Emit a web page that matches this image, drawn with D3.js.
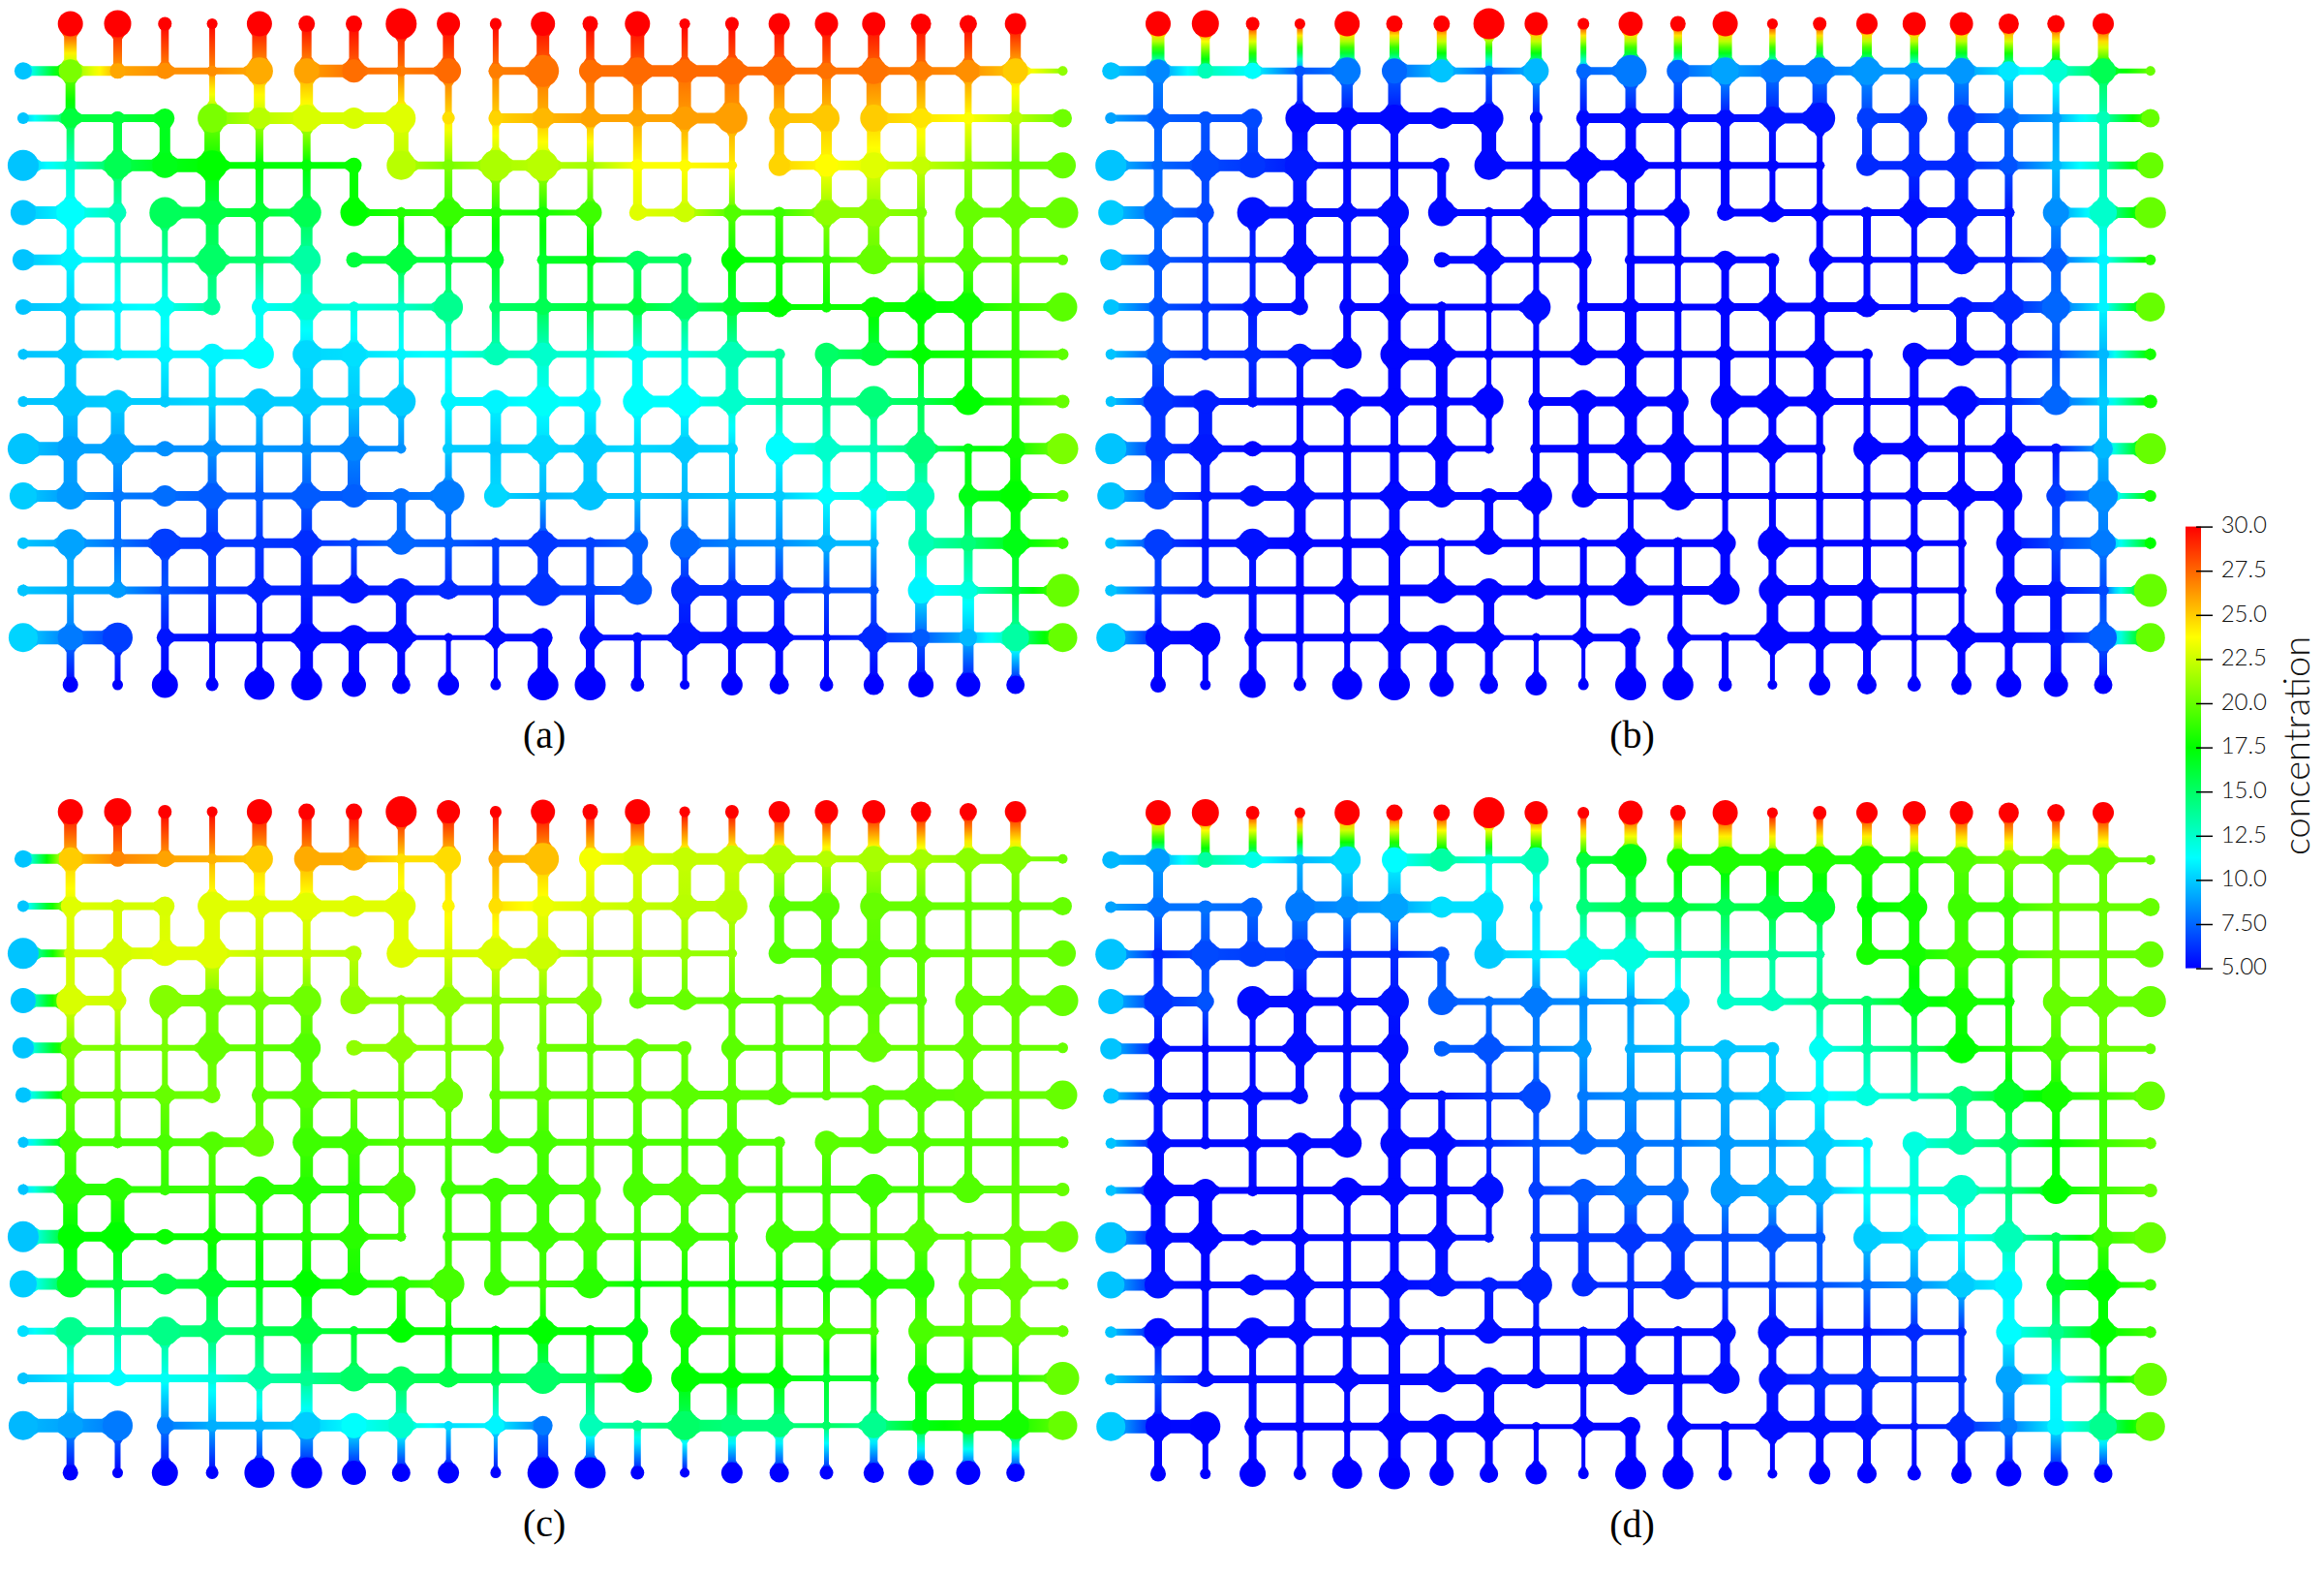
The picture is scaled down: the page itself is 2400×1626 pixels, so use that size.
<!DOCTYPE html>
<html><head><meta charset="utf-8">
<script src="https://cdn.jsdelivr.net/npm/d3@7"></script>
<style>html,body{margin:0;background:#fff}svg{display:block}</style>
</head><body><div id="chart"></div>
<script>
// colour bar
const legendDomain = [5, 11.25, 17.5, 23.75, 30];
const legendColors = ["#0000ff", "#00ffff", "#00ff00", "#ffff00", "#ff0000"];
const legendTicks = [30, 27.5, 25, 22.5, 20, 17.5, 15, 12.5, 10, 7.5, 5];
const legendLabels = ["30.0", "27.5", "25.0", "22.5", "20.0", "17.5", "15.0", "12.5", "10.0", "7.50", "5.00"];
const panelLabels = ["(a)", "(b)", "(c)", "(d)"];
const topValue = 30, bottomValue = 5;

// node radii, boundary rows hold columns 1..21, inner rows hold columns 0..22
const radiusTop = [13,14,7,5.5,13,8.5,8.5,16,12,6,12.5,8,13,5.5,7,11,12,12,10.5,9,11];
const radiusBottom = [8,5.5,13.5,6.5,15.5,16,12.5,9.5,11,5.5,16,16,7,5,11,10,7,10.5,13,12.5,9.5];
const radiusRows = [
[9,12,8,8.5,4,14,13,12,5,13,7.5,16.5,11.5,14,12,14,14.5,8.5,13.5,10,11.5,13,5],
[6,10,7,10,15,11,14,11,15,6.5,7.5,10.5,9.5,8.5,12,16,10.5,13.5,14,10,6,7,9.5],
[16,5,14,13,15.5,5.5,5,8,15,5,16,16,5,6,6,5,11,11.5,13.5,9,5,5,13.5],
[13,14.5,9,16,12.5,9,15,14,5,14,6,5,12,8.5,10,8,6,13,14,4.5,13.5,14,16],
[11,10,4.5,4,15.5,5,14.5,8,13.5,4,8.5,6,5,9.5,7,11,5,4,15,5,11.5,5,5.5],
[8,9,6,9,8.5,8,13.5,5,4,15,6.5,6,5,8.5,12.5,9,10.5,4,10.5,15,14.5,5,15],
[5,11,6,8,11,15,14.5,12.5,4,5,11.5,12,4,8.5,5,13,6,12,12,9,5,6,5],
[5,15,12,5,4,13.5,13,5,15,8,12,15,11,15,15,12.5,4,5,16,5,14,6,7],
[16,13,15,8,8,4,5,12.5,5,6,5,14,14.5,5,12.5,5,14,12,5,15,5,10,16],
[14,14,5,11,13,4,13,12,8,16.5,12,5,15,4,4,4,6,8,13,14,10,15,6],
[6,14.5,4,15,11.5,5,13,4,12,5,5,13,6,11,15,5,5,8,4,13,8,13,5],
[6,4,8,4,4,11,5,13.5,12.5,9.5,5,16,5,15,14,10,10.5,4,5,13.5,9,5,17],
[15,13,15.5,8.5,4,4,14,13,13,4,9,10,11,5,15,11,12,4,13,9,9,14,15]];

// horizontal pipe widths for rows 1..13, 0 means no pipe
const horizontalWidths = [
[10,10,10,6,6,0,13,6,6,0,8,0,12,12,12,9,6,6,8,8,10,4],
[6,8,8,0,12,12,12,12,0,0,10,10,8,8,11,0,10,0,10,8,8,8],
[7,7,12,14,6,6,6,0,8,8,11,6,6,6,5,0,9,10,8,7,7,7],
[13,10,0,12,9,8,0,6,6,6,5,5,0,8,6,5,6,11,6,0,10,11],
[11,5,5,5,6,6,0,8,5,5,0,7,5,6,0,5,5,5,5,5,5,5],
[8,6,6,8,0,8,6,6,6,0,8,8,6,7,9,10,5,5,10,12,7,7],
[6,8,7,8,10,0,12,6,6,6,8,6,6,6,6,6,0,10,8,8,7,7],
[6,12,6,7,8,10,8,8,0,9,10,10,0,12,10,6,6,8,6,6,8,7],
[14,10,6,6,6,6,6,5,0,7,9,8,6,7,7,0,12,6,6,5,5,12],
[12,8,6,10,6,6,10,7,8,0,5,6,5,5,5,5,6,8,10,0,11,5],
[6,8,8,12,8,10,5,5,7,6,6,8,8,0,7,6,6,5,0,11,12,7],
[7,7,7,8,8,10,12,10,10,10,10,10,9,0,11,11,5,5,0,11,6,6],
[14,14,0,7,7,7,12,12,4,4,7,0,5,5,12,12,4,4,10,11,11,14]];

// vertical pipe widths between row r and r+1, columns 1..21
const verticalWidths = [
[13,9,7,5,15,10,10,6,11.5,5,13,8.5,14,5.5,6,10,8.5,12,9,8,11],
[10,0,0,5,11.5,13,0,5.5,6,6,11,8.5,9,13,15,11,9,15,9,6,7],
[8,9,11,16,7,7,0,15,7,6,11,6,9,6,5,10,11,14,9,6,8],
[9,8,0,14,7,7,9,0,7,8,8,5,9,5,5,0,11,14,7,8,8],
[8,5,5,13,7,12,0,5,6,7,6,6,0,0,6,7,5,12,6,10,7],
[8,5,5,9,7,12,0,5,5,7,7,5,7,6,7,6,6,0,6,10,7],
[9,5,9,0,8,13,6,4,5,8,12,6,9,6,10,0,0,11,6,8,7],
[12,0,7,6,0,13,12,4,6,0,12,7,11,6,13,6,9,0,5,8,7],
[15,14,0,6,6,8,11,5,6,11,13,12,6,8,6,6,8,6,6,0,7],
[14,9,0,9,7,9,13,0,6,11,6,14,6,5,5,6,7,6,13,6,11],
[0,6,0,12,6,11,0,9,5,0,5,0,5,6,6,6,6,5,12,8,10],
[6,6,6,7,9,12,5,0,6,6,11,8,10,8,6,7,5,5,12,9,6],
[6,0,7,7,5,12,0,11,0,5,0,9,0,12,11,11,4,5,12,12,6],
[7,5,7,5,5,13,11,8,4,3,11,9,6,4,8,7,4,8,8,11,8]];

// concentration at nodes of rows 1..13, columns 0..22
const concentrationA = [
[9.8,20.5,25.9,26.5,26.5,25.8,26,27.3,27,27.4,26.9,27.2,27.3,27.4,27.4,27.4,27.4,27.2,27.2,26.9,26.5,25,21],
[9.8,16,16,16.8,20.5,22,22.8,22.8,23,24.5,24.8,25.5,26,26,26.1,26.1,25.3,25.1,25,24.4,23.7,22,20.2],
[9.8,12.5,15.5,16.9,17.5,17.3,17.3,17.7,22,20.5,21.7,22,21.5,23.7,23.8,24.2,24.8,23.8,23,22.3,21,20,20],
[9.8,11.3,13,15.3,15.8,16.2,15.5,17.5,18.3,18.8,18.3,18,19,23,22.5,19.5,19,21,21,20.5,20,20,20],
[9.8,11,12.5,13.5,15,14.8,13.5,16,16,16,16.5,16.5,17,15.2,15.3,17.5,18,19,20,20,19.5,20,20],
[9.8,10.2,11,11.5,13.7,11.5,12.3,12,12.5,14,15,15.5,16,16,15,16.3,17.5,17.8,17.8,17.5,17.8,19,19.7],
[9.8,10,10.8,11,11,11.3,10.3,10.5,11,11.5,13,12.5,12.3,11.5,12,13,13.8,15,16,17.5,18,18.7,19.8],
[9.8,9.8,10,10,10.3,10,10,10,10,11,11,11.4,11,11.3,11.3,12.5,13.5,14,14.5,15.5,17.5,18.5,20],
[9.8,9,9,8.5,8.5,8.7,8.5,8.3,8.5,10,10,10.3,10,10.3,10,10.3,11.2,12.5,13,14.5,17,18,20.5],
[10,8.8,8,7.7,7.2,7.2,7.2,7.3,7.7,8,10.3,9.5,9.8,9.8,9.5,9.8,10,11.3,12,12.8,17,17.5,19.7],
[9.8,9,7.8,6.5,6.3,6.3,6.1,6.8,7.5,7.2,6.6,6.3,6.6,7.3,7.5,8.2,8.5,9.5,9.5,13,14.5,17,19],
[9.8,9.2,8.8,7,6.3,5.8,5.7,5.5,5.7,6,6,6.2,6.5,7,6,6,6,6.7,7,11,12,16,20],
[10.2,8,6.5,5.5,5.3,5.2,5.2,5.2,5.3,5.2,5.3,5.2,5.3,5.4,5.5,5.3,5.3,5.5,6,7.2,9.5,13.5,20]];
const concentrationB = [
[9.8,8.3,13,11.3,7,8,7.5,9.8,7.5,9.5,7.5,8,7.5,9,8,8,8.7,8.8,8.7,10.7,12.3,15.5,20],
[9,7.3,7,6.8,5.2,5.2,5.2,5.2,5.2,5.2,5.2,5.3,5.3,5.3,5.5,5.5,6.5,6.2,6.3,7.5,9,13,20],
[9.8,7.5,6.8,6.3,5.6,5.2,5.2,5.2,5.2,5.1,5.1,5.1,5.1,5.1,5.1,5.1,6,6,6,7,9.5,13,20],
[10,7.5,6.7,5.4,5.3,5.3,5.3,5.2,5.1,5.1,5.1,5.1,5.1,5.1,5.1,5.1,5.2,5.3,5.6,5.5,8.5,12.5,20],
[9.8,7.2,6.5,5.8,5.3,5.3,5.2,5.2,5.2,5.1,5.1,5.1,5.1,5.1,5.1,5.1,5.2,5.3,5.5,5.7,7.3,11,18.5],
[9.8,7,6.3,5.6,5.3,5.1,5.1,5.1,5.1,5.3,5.1,5.1,5.1,5.1,5.1,5.1,5.1,5.3,5.5,6,7.5,11,20],
[9.8,7,6.3,6,5.6,5.2,5.1,5.1,5.1,5.1,5.1,5.1,5.1,5.1,5.1,5.1,5.1,5.2,5.3,5.6,7,9.5,18],
[9.8,6.2,5.7,5.5,5.2,5.1,5.1,5.1,5.1,5.1,5.1,5.1,5.1,5.1,5.1,5.1,5.1,5.1,5.2,6,7.5,10,18],
[9.8,6.2,5.6,5.1,5.1,5.1,5.1,5.1,5.1,5.1,5.1,5.1,5.1,5.1,5.1,5.1,5.1,5.1,5.1,5.1,5.5,9.5,20],
[9.8,6.7,5.6,5.4,5.3,5.2,5.2,5.2,5.1,5.1,5.1,5.1,5.1,5.1,5.1,5.1,5.1,5.1,5.1,5.2,6.5,8.5,18],
[9.8,6.5,5.6,5.4,5.1,5.1,5.1,5.1,5.1,5.1,5.1,5.1,5.1,5.1,5.1,5.1,5.1,5.1,5.1,5.3,6.8,8,17.5],
[9.8,6.5,5.7,5.4,5.1,5.1,5.1,5.1,5.1,5.1,5.1,5.1,5.1,5.1,5.1,5.1,5.1,5.1,5.1,5.2,5.5,6.8,20],
[10,5.3,5.1,5.1,5.1,5.1,5.1,5.1,5.1,5.1,5.1,5.1,5.1,5.1,5.1,5.1,5.1,5.1,5.1,5.2,5.6,7.3,20]];
const concentrationC = [
[9.8,25,26.7,26,25.6,25,25.8,25.7,24.5,24.6,25.7,25.3,23.5,22.8,22.3,22.3,21.8,21.9,21.6,21.5,20.9,20.7,20.2],
[9.8,23,22.7,22.8,23,23,23,23,23,24,24.5,23.3,22.8,22.3,22,21.9,19.7,19.7,20,20,20,20,20],
[9.8,22.7,22.7,23,23,22.3,22.3,22,23,22.8,22.8,22.5,21.5,21.5,21.2,21,19.5,19.5,19.7,19.8,20,20,20],
[9.8,22.8,22.5,20.7,20.3,20.3,20.2,21,21,21,21,20.8,20.8,20,20,19.8,19.7,19.8,19.8,19.8,20,20,20],
[9.8,20.7,20.5,20.4,20,19.8,19.5,21,20.9,20.6,20.5,20.2,20,20,20,19.7,19.6,19.7,20,20,20,20,20],
[9.8,20,20,20,20.2,19.7,19.5,20,20,20.2,19.8,19.8,19.8,19.8,19.7,19.7,19.6,19.7,19.7,19.7,19.8,20,20],
[9.8,19.2,19.2,19.3,19.5,20,19,19,19.5,19.5,19.2,19.2,19.5,19.3,19.3,19.3,19.5,19.7,19.5,19.5,19.5,19.5,19.7],
[9.8,18.5,18.5,18.8,19,18.5,18.4,18.5,19.3,19,19,19,19.3,19.3,19.5,19.3,19,19,19,19.2,19.5,19.7,20],
[9.8,17.5,17.5,17.7,17.8,18,18.3,18.5,19,19,19,19,19.2,19,19,19,19,19,19.3,19.5,19.7,20,20.2],
[10,16.5,16,15.7,16.3,17,17.5,18,18.5,19.2,19,19,18.5,17.7,18,18,18,18,18.3,18.5,19.8,20,20],
[10.5,14,13.5,14.2,14.8,15.5,16,16.5,17.5,17.7,17.5,17.5,17.5,17.2,18,18.5,19,19,19.2,19.3,19.7,20,20],
[9.8,10.8,11.2,11.5,12,13.5,14,15,15.3,15.7,15.5,15,15.5,17.5,17.5,17.5,17.3,16.5,16.5,17.8,18,18.5,20],
[9.5,9,8,8,9.3,9.5,10,11.3,12.5,10.5,11,8,13,14,15,14.5,14.5,15,14,17,18,18,20]];
const concentrationD = [
[9.5,8.8,13.5,11.8,9.5,10.3,11.2,13.5,12.2,13,16,17,18,18.2,18.2,18.2,18.2,18.5,19.5,20.3,20,20,20],
[9,7.8,7.8,7.5,8,8.5,9,10.5,10.5,10.5,14.5,15.5,16,15.5,16,16.5,17.5,18,19,19,20,20,20],
[9.8,6,6.8,6.5,6.4,6,6,7,10,10.8,11.8,12,13,13.5,13.7,13.7,18,18,19,19,20,20,20],
[9.8,6.2,7,5.3,5.3,5.3,5.5,7.2,7.7,8,8.5,9,10.3,12.5,12.8,14,15,17,18,18,20,20,20],
[9.8,5.3,5.2,5.2,5.3,5.3,5.3,7.3,7,8,8.8,9.3,9.8,9.8,10,11.5,13.5,15,17.5,18.3,19.3,20,20],
[9.8,5.5,5.3,5.3,5.3,5.3,5.3,5.5,6.3,6.8,8,8.5,8.8,9.3,10,11,12,13,14.5,16.5,18,19,20],
[9.8,5.3,5.2,5.2,5.2,5.2,5.2,5.2,6,7,7.5,7.8,8,8.8,9,10,11,12,13.5,15,17.5,19,20],
[9.8,5.1,5.1,5.1,5.1,5.1,5.2,5.2,5.4,6.5,7.2,7.7,7.7,8.8,9.3,9.6,11.5,12,12.5,14.5,17.5,19,20],
[9.8,5.3,5.1,5.1,5.2,5.2,5.2,5.3,5.5,6.2,6.3,6.3,6.5,6.8,7,7.2,10,10.5,11.2,13,15.5,19,20],
[9.8,5.4,5.2,5.3,5.3,5.3,5.3,5.5,5.7,5.8,6,6.1,6,6.4,6.5,7,7.8,8.6,10,11,16.5,17.5,19],
[9.8,5.2,5.1,5.2,5.2,5.2,5.2,5.3,5.3,5.4,5.4,5.3,5.3,5.4,5.4,5.5,5.6,6,6,11.2,14,17.5,19],
[9.8,7,5.3,5.2,5.2,5.2,5.2,5.2,5.2,5.2,5.2,5.2,5.2,5.3,5.4,6,6,6.2,6.2,9,11.2,16,20],
[10,5.2,5.1,5.1,5.1,5.1,5.1,5.1,5.1,5.1,5.1,5.1,5.2,5.2,5.3,5.4,5.5,5.6,6,8,11,14,20]];
const panelValues = [concentrationA, concentrationB, concentrationC, concentrationD];

const width = 2400, height = 1626;
const svg = d3.select("#chart").append("svg").attr("width", width).attr("height", height)
  .attr("viewBox", [0, 0, width, height]);
const defs = svg.append("defs");
const color = d3.scaleLinear().domain(legendDomain).range(legendColors).clamp(true);
const xGrid = d3.scaleLinear().domain([0, 22]).range([23.9, 1097.5]);
const yGrid = d3.scaleLinear().domain([0, 14]).range([24.5, 707]);
const panelX = d3.scaleOrdinal().domain([0, 1, 2, 3]).range([0, 1123.3, 0, 1123.3]);
const panelY = d3.scaleOrdinal().domain([0, 1, 2, 3]).range([0, 0, 813.5, 814.5]);
const drawnWidth = w => w <= 7 ? w + 1 : w;

function radiusAt(r, c) {
  if (r === 0) return radiusTop[c - 1];
  if (r === 14) return radiusBottom[c - 1];
  return radiusRows[r - 1][c];
}
function valueAt(values, r, c) {
  if (r === 0) return topValue;
  if (r === 14) return bottomValue;
  return values[r - 1][c];
}
// pipes of one shared network
const pipes = [];
horizontalWidths.forEach((row, i) => row.forEach((w, c) => {
  if (w > 0) pipes.push({r1: i + 1, c1: c, r2: i + 1, c2: c + 1, w: drawnWidth(w)});
}));
verticalWidths.forEach((row, r) => row.forEach((w, i) => {
  if (w > 0) pipes.push({r1: r, c1: i + 1, r2: r + 1, c2: i + 1, w: drawnWidth(w)});
}));
const nodes = [];
const radiusOf = {};
d3.range(15).forEach(r => d3.range(23).forEach(c => {
  if ((r === 0 || r === 14) && (c === 0 || c === 22)) return;
  const touching = pipes.filter(p => (p.r1 === r && p.c1 === c) || (p.r2 === r && p.c2 === c));
  const maxW = d3.max(touching, p => p.w) || 0;
  const radius = Math.max(radiusAt(r, c), maxW / 2 + 2);
  radiusOf[r + "," + c] = radius;
  nodes.push({r, c, radius});
}));

// a pipe widens a little where it meets a node, as a chamfered collar
const flare = 2.5, flareLength = 4;
function pipePath(d) {
  const x1 = xGrid(d.c1), y1 = yGrid(d.r1), x2 = xGrid(d.c2), y2 = yGrid(d.r2);
  const len = Math.hypot(x2 - x1, y2 - y1), ux = (x2 - x1) / len, uy = (y2 - y1) / len;
  const h = d.w / 2, H = h + flare;
  const ra = radiusOf[d.r1 + "," + d.c1], rb = radiusOf[d.r2 + "," + d.c2];
  const sa = Math.sqrt(Math.max(ra * ra - H * H, 0)), sb = len - Math.sqrt(Math.max(rb * rb - H * H, 0));
  const pts = [[0, H], [sa, H], [sa + flareLength, h], [sb - flareLength, h], [sb, H], [len, H],
               [len, -H], [sb, -H], [sb - flareLength, -h], [sa + flareLength, -h], [sa, -H], [0, -H]];
  const path = d3.path();
  pts.forEach(([s, t], i) => {
    const px = x1 + ux * s - uy * t, py = y1 + uy * s + ux * t;
    if (i) path.lineTo(px, py); else path.moveTo(px, py);
  });
  path.closePath();
  return path.toString();
}

const stopFractions = d3.range(0, 1.0001, 1 / 8);
panelValues.forEach((values, p) => {
  const g = svg.append("g").attr("transform", `translate(${panelX(p)},${panelY(p)})`);
  const data = pipes.map((d, i) => ({...d, a: valueAt(values, d.r1, d.c1), b: valueAt(values, d.r2, d.c2), id: `p${p}e${i}`}));
  const grads = defs.selectAll(null).data(data.filter(d => Math.abs(d.a - d.b) > 0.15)).join("linearGradient")
    .attr("id", d => d.id).attr("gradientUnits", "userSpaceOnUse")
    .attr("x1", d => xGrid(d.c1)).attr("y1", d => yGrid(d.r1))
    .attr("x2", d => xGrid(d.c2)).attr("y2", d => yGrid(d.r2));
  grads.selectAll("stop").data(d => stopFractions.map(t => ({t, v: d.a + (d.b - d.a) * t}))).join("stop")
    .attr("offset", d => d.t).attr("stop-color", d => color(d.v));
  g.append("g").selectAll("path").data(data).join("path")
    .attr("d", pipePath)
    .attr("fill", d => Math.abs(d.a - d.b) > 0.15 ? `url(#${d.id})` : color(d.a));
  g.append("g").selectAll("circle").data(nodes).join("circle")
    .attr("cx", d => xGrid(d.c)).attr("cy", d => yGrid(d.r)).attr("r", d => d.radius)
    .attr("fill", d => color(valueAt(values, d.r, d.c)));
  g.append("text").attr("x", (xGrid(0) + xGrid(22)) / 2 + 1.5).attr("y", 772)
    .attr("text-anchor", "middle").attr("font-family", "Liberation Serif").attr("font-size", 40)
    .attr("fill", "#000").text(panelLabels[p]);
});

// colour bar
const legendY = d3.scaleLinear().domain([5, 30]).range([999.6, 543.6]);
const legendGrad = defs.append("linearGradient").attr("id", "legendGrad").attr("x1", 0).attr("y1", 1).attr("x2", 0).attr("y2", 0);
legendGrad.selectAll("stop").data(legendDomain).join("stop")
  .attr("offset", d => (d - 5) / 25).attr("stop-color", d => color(d));
const barX = 2257, barW = 16;
svg.append("rect").attr("x", barX).attr("y", legendY(30)).attr("width", barW)
  .attr("height", legendY(5) - legendY(30)).attr("fill", "url(#legendGrad)");
const axis = d3.axisRight(legendY).tickValues(legendTicks).tickSize(17)
  .tickFormat((d, i) => legendLabels[i]);
const axisG = svg.append("g").attr("transform", `translate(${barX + 11},0)`).call(axis);
axisG.select(".domain").remove();
axisG.selectAll(".tick line").attr("stroke", "#000").attr("stroke-width", 1.5);
axisG.selectAll(".tick text").attr("x", 73).attr("dy", "0.26em").attr("text-anchor", "end")
  .attr("font-family", "Lato").attr("font-weight", 300).attr("font-size", 24).attr("fill", "#111");
svg.append("text").attr("transform", "translate(2385,770) rotate(-90)")
  .attr("text-anchor", "middle").attr("font-family", "Lato").attr("font-weight", 300).attr("font-size", 38)
  .attr("fill", "#111").text("concentration");
</script></body></html>
